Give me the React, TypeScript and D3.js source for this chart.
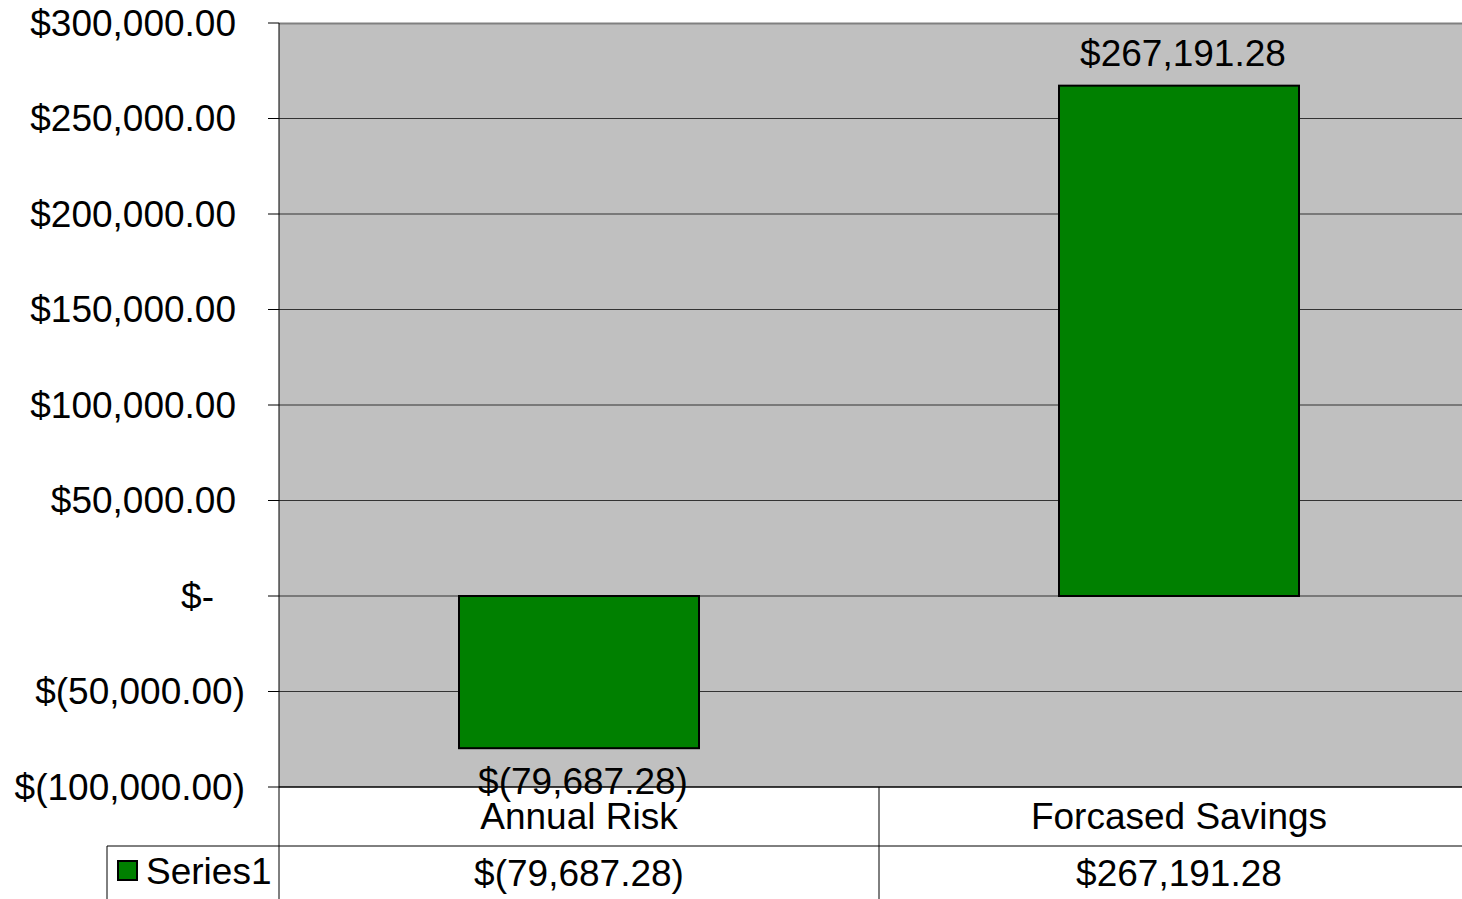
import React from "react";
import * as d3 from "d3";

const categories: string[] = ["Annual Risk", "Forcased Savings"];
const seriesName = "Series1";
const values: number[] = [-79687.28, 267191.28];
const yTicks: number[] = [-100000, -50000, 0, 50000, 100000, 150000, 200000, 250000, 300000];

const W = 1462;
const H = 899;
const plotLeft = 279;
const plotRight = 1479;
const plotTop = 23;
const plotBottom = 787;
const row1Bottom = 846;
const legendLeft = 107;
const FONT = "'Liberation Sans', Arial, Helvetica, sans-serif";

const num = d3.format(",.2f");
function acct(v: number): string {
  if (v === 0) return "$-";
  if (v < 0) return "$(" + num(-v) + ")";
  return "$" + num(v);
}
function tickLabelX(v: number): number {
  if (v === 0) return 214;
  if (v < 0) return 245;
  return 236;
}

export default function App() {
  const x = d3.scaleBand<string>().domain(categories).range([plotLeft, plotRight]).paddingInner(0.6).paddingOuter(0.3);
  const xc = d3.scaleBand<string>().domain(categories).range([plotLeft, plotRight]);
  const y = d3.scaleLinear().domain([-100000, 300000]).range([plotBottom, plotTop]);
  const fs = 37;

  return (
    <svg width={W} height={H} style={{ position: "absolute", left: 0, top: 0, background: "#fff" }} fontFamily={FONT}>
      <rect x={plotLeft} y={plotTop} width={plotRight - plotLeft} height={plotBottom - plotTop} fill="#c0c0c0" />
      <line x1={plotLeft} x2={plotRight} y1={plotTop + 0.5} y2={plotTop + 0.5} stroke="#808080" strokeWidth={2} />
      {yTicks.map((t) => (
        <g key={t}>
          {t !== -100000 && t !== 300000 && (
            <line x1={plotLeft} x2={plotRight} y1={y(t)} y2={y(t)} stroke="#333" strokeWidth={1} />
          )}
          <line x1={268} x2={plotLeft} y1={y(t)} y2={y(t)} stroke="#000" strokeWidth={1} />
          <text x={tickLabelX(t)} y={y(t)} dy="0.35em" textAnchor="end" fontSize={fs} fill="#000">
            {acct(t)}
          </text>
        </g>
      ))}
      {categories.map((c, i) => {
        const v = values[i];
        const y0 = y(Math.max(0, v));
        const y1 = y(Math.min(0, v));
        const bx = x(c) as number;
        return (
          <g key={c}>
            <rect x={bx} y={y0} width={x.bandwidth()} height={y1 - y0} fill="#008000" stroke="#000" strokeWidth={2} />
            <text
              x={bx + x.bandwidth() / 2 + 4}
              y={v >= 0 ? y0 - 20 : y1 + 46}
              textAnchor="middle"
              fontSize={fs}
              fill="#000"
            >
              {acct(v)}
            </text>
          </g>
        );
      })}
      {/* data table */}
      <line x1={plotLeft} x2={W} y1={plotBottom} y2={plotBottom} stroke="#000" strokeWidth={1.5} />
      <line x1={legendLeft} x2={W} y1={row1Bottom} y2={row1Bottom} stroke="#000" strokeWidth={1} />
      <line x1={plotLeft} x2={plotLeft} y1={plotTop} y2={H} stroke="#000" strokeWidth={1} />
      <line x1={legendLeft} x2={legendLeft} y1={row1Bottom} y2={H} stroke="#000" strokeWidth={1} />
      {categories.map((c, i) => {
        const cx = (xc(c) as number) + xc.bandwidth() / 2;
        return (
          <g key={"t" + c}>
            {i > 0 && (
              <line x1={xc(c) as number} x2={xc(c) as number} y1={plotBottom} y2={H} stroke="#000" strokeWidth={1} />
            )}
            <text x={cx} y={829} textAnchor="middle" fontSize={fs} fill="#000">
              {c}
            </text>
            <text x={cx} y={886} textAnchor="middle" fontSize={fs} fill="#000">
              {acct(values[i])}
            </text>
          </g>
        );
      })}
      <rect x={118} y={861} width={19} height={19} fill="#008000" stroke="#000" strokeWidth={2} />
      <text x={146} y={884} fontSize={fs} fill="#000">
        {seriesName}
      </text>
    </svg>
  );
}
